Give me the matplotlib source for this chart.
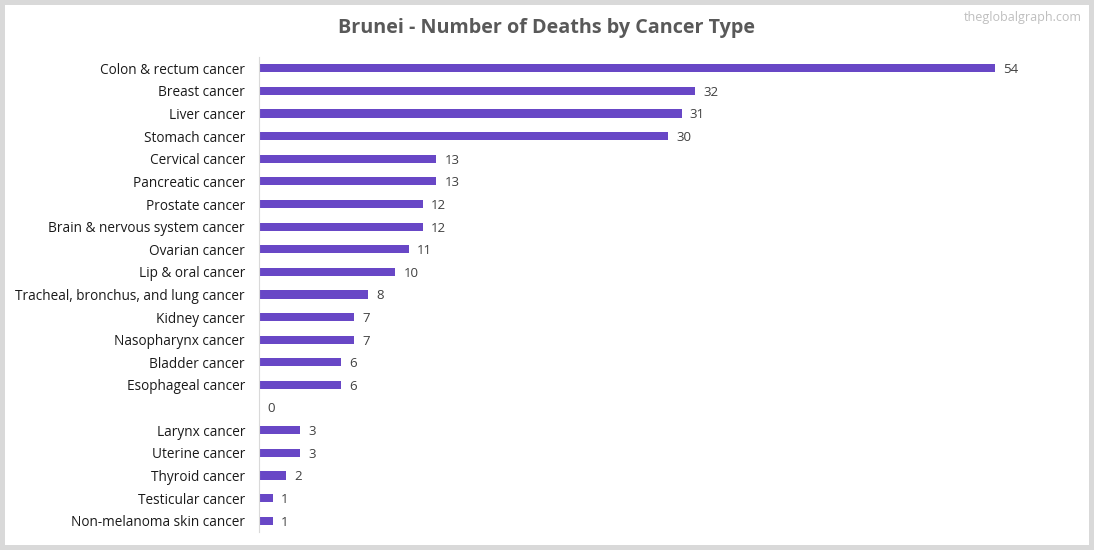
import matplotlib.pyplot as plt
from matplotlib.patches import Rectangle

# Data (top to bottom)
cancer_types = [
    "Colon & rectum cancer", "Breast cancer", "Liver cancer", "Stomach cancer",
    "Cervical cancer", "Pancreatic cancer", "Prostate cancer",
    "Brain & nervous system cancer", "Ovarian cancer", "Lip & oral cancer",
    "Tracheal, bronchus, and lung cancer", "Kidney cancer", "Nasopharynx cancer",
    "Bladder cancer", "Esophageal cancer", "", "Larynx cancer", "Uterine cancer",
    "Thyroid cancer", "Testicular cancer", "Non-melanoma skin cancer",
]
deaths = [54, 32, 31, 30, 13, 13, 12, 12, 11, 10, 8, 7, 7, 6, 6, 0, 3, 3, 2, 1, 1]

plt.rcParams['font.family'] = ['Open Sans', 'DejaVu Sans']

W, H = 1094, 550
fig = plt.figure(figsize=(W / 100, H / 100), dpi=100)
fig.patch.set_facecolor('#d9d9d9')
fig.patches.append(Rectangle((5 / W, 5 / H), (W - 10) / W, (H - 10) / H,
                             transform=fig.transFigure, facecolor='white',
                             edgecolor='none', zorder=-10))

ax = fig.add_axes([259 / W, 1 - 532 / H, (1077 - 259) / W, (532 - 57) / H])
ax.set_facecolor('none')

pos = list(range(len(cancer_types)))
ax.barh(pos, deaths, height=0.36, color='#6847c6')
for p, v in zip(pos, deaths):
    ax.text(v + 0.6, p + 0.06, str(v), va='center', ha='left', fontsize=9.5,
            color='#404040')

ax.set_yticks(pos)
ax.set_yticklabels(cancer_types, fontsize=9.8, color='#1a1a1a')
ax.set_ylim(len(cancer_types) - 0.5, -0.5)
ax.set_xlim(0, 60)
ax.set_xticks([])
ax.tick_params(axis='y', length=0, pad=10)
for s in ['top', 'right', 'bottom']:
    ax.spines[s].set_visible(False)
ax.spines['left'].set_color('#d9d9d9')

fig.text(0.5, 1 - 28 / H, "Brunei - Number of Deaths by Cancer Type", ha='center',
         va='center', fontsize=14.2, fontweight='bold', color='#595959')
fig.text(1082 / W, 1 - 17 / H, "theglobalgraph.com", ha='right', va='center',
         fontsize=9, color='#bfbfbf')

fig.savefig('out.png', dpi=100, facecolor=fig.get_facecolor())
